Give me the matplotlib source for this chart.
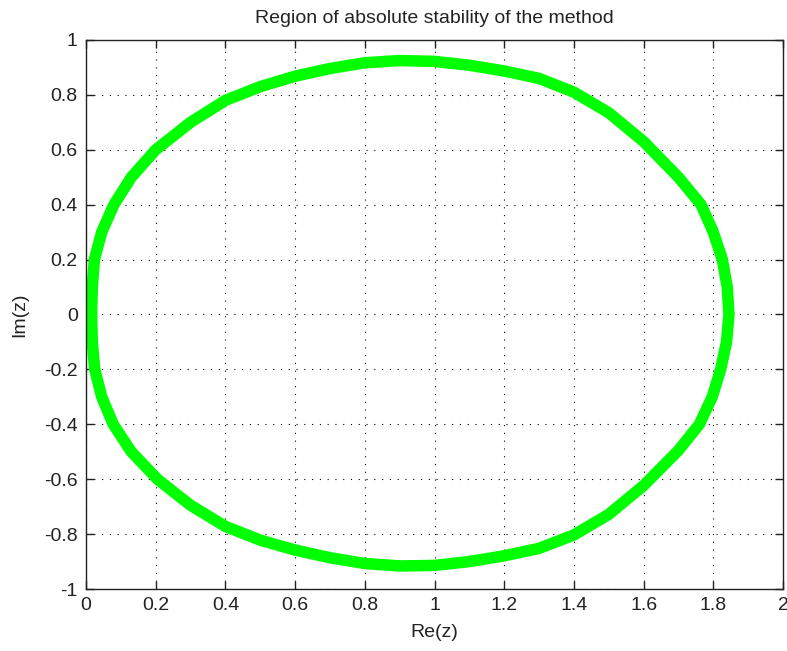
import numpy as np
import matplotlib
matplotlib.use("Agg")
import matplotlib.pyplot as plt

plt.rcParams['font.family'] = ['Liberation Sans', 'DejaVu Sans']

# boundary of the stability region (upper and lower halves)
upper_re = [0.016, 0.018, 0.024, 0.045, 0.08, 0.13, 0.20, 0.30, 0.40, 0.50,
            0.60, 0.70, 0.80, 0.90, 1.00, 1.10, 1.20, 1.30, 1.40, 1.50,
            1.60, 1.70, 1.765, 1.80, 1.826, 1.840, 1.845]
upper_im = [0.0, 0.1, 0.2, 0.3, 0.4, 0.5, 0.6, 0.70, 0.78, 0.83,
            0.868, 0.896, 0.917, 0.925, 0.922, 0.908, 0.887, 0.860, 0.810, 0.735,
            0.63, 0.5, 0.4, 0.3, 0.2, 0.1, 0.0]
lower_re = [0.016, 0.018, 0.025, 0.045, 0.078, 0.13, 0.205, 0.30, 0.40, 0.50,
            0.60, 0.70, 0.80, 0.90, 1.00, 1.10, 1.20, 1.30, 1.40, 1.50,
            1.60, 1.70, 1.76, 1.797, 1.821, 1.838, 1.845]
lower_im = [0.0, -0.1, -0.2, -0.3, -0.4, -0.5, -0.6, -0.695, -0.772, -0.822,
            -0.858, -0.886, -0.907, -0.916, -0.914, -0.900, -0.879, -0.852, -0.803, -0.728,
            -0.623, -0.495, -0.4, -0.3, -0.2, -0.1, 0.0]

xticks = np.arange(0, 2.01, 0.2)
yticks = np.arange(-1, 1.01, 0.2)
xticklabels = ['0', '0.2', '0.4', '0.6', '0.8', '1', '1.2', '1.4', '1.6', '1.8', '2']
yticklabels = ['-1', '-0.8', '-0.6', '-0.4', '-0.2', '0', '0.2', '0.4', '0.6', '0.8', '1']

x = np.concatenate([upper_re, lower_re[::-1]])
y = np.concatenate([upper_im, lower_im[::-1]])

fig = plt.figure(figsize=(7.87, 6.51), dpi=100)
ax = fig.add_axes([0.1093, 0.0952, 0.8856, 0.8434])

ax.plot(x, y, color='#00ff00', lw=8.3, solid_joinstyle='round', solid_capstyle='round')

ax.set_xlim(0, 2)
ax.set_ylim(-1, 1)
ax.set_xticks(xticks)
ax.set_yticks(yticks)
ax.set_xticklabels(xticklabels)
ax.set_yticklabels(yticklabels)

ax.grid(True, color='black', ls=(0, (1, 6)), lw=0.8)
ax.tick_params(direction='in', length=6, width=1, top=True, right=True,
               labelsize=14, pad=6, colors='#222222', labelcolor='#222222')
for s in ax.spines.values():
    s.set_linewidth(1.0)
    s.set_color('#222222')

ax.set_title('Region of absolute stability of the method', fontsize=14, pad=12, color='#222222')
ax.set_xlabel('Re(z)', fontsize=14, labelpad=7, color='#222222')
ax.set_ylabel('Im(z)', fontsize=14, labelpad=11, color='#222222')

fig.savefig('out.png', dpi=100, facecolor='white')
